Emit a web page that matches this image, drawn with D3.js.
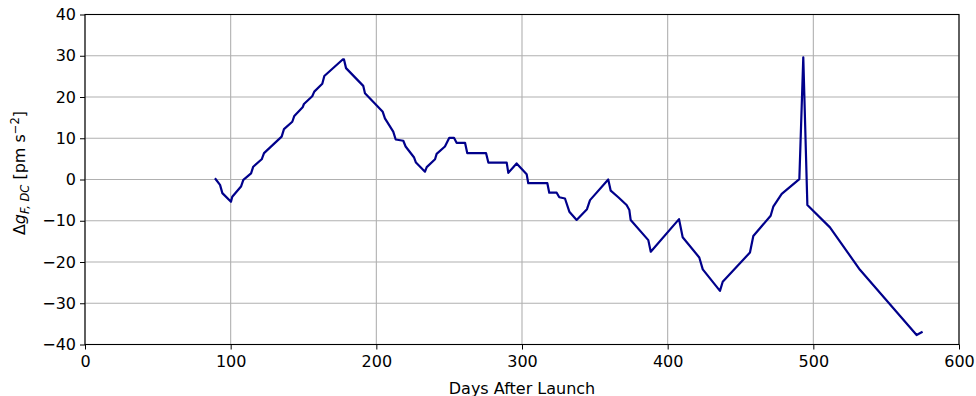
<!DOCTYPE html>
<html>
<head>
<meta charset="utf-8">
<script src="https://cdn.jsdelivr.net/npm/d3@7"></script>
<style>
  body { margin: 0; background: #fff; }
  text { font-family: "DejaVu Sans", sans-serif; }
</style>
</head>
<body>
<div id="chartArea"></div>
<script>
// days after launch and delta g values
let days = [89.2, 92.7, 94.3, 100.2, 101.1, 107.1, 108.7, 114, 115.5, 121.3, 122.9, 135, 136.6,
  142.3, 143.7, 149.4, 150.3, 156, 157.4, 162.9, 164.3, 176.9, 177.8, 179.2, 191, 192.2, 204.4,
  205.9, 211.6, 213.3, 218.5, 220.1, 225.8, 227.2, 233.4, 234.6, 240.3, 241.4, 247.1, 250.1,
  253.3, 255.1, 260.9, 262.4, 275.3, 276.9, 289.5, 290.6, 296.3, 303.2, 304.3, 317.4, 318.7,
  323.8, 325.6, 329.5, 332.5, 337.5, 344.6, 346.7, 359.2, 360.9, 366.1, 371.8, 373.7, 374.6,
  386.7, 388.4, 407.8, 410.3, 421.7, 424.1, 435.9, 437.8, 456.5, 458.8, 470.7, 472.5, 478.3,
  490.4, 493.1, 495.9, 511.4, 532, 570.9, 575]
let dg = [0.3, -1.3, -3.3, -5.4, -4.2, -1.7, -0.1, 1.5, 3.1, 4.9, 6.4, 10.4, 12.2,
  14, 15.4, 17.5, 18.3, 20.2, 21.3, 23.2, 25.1, 29.1, 29.1, 27, 22.7, 20.9, 16.4,
  14.8, 11.6, 9.7, 9.4, 8, 5.4, 4.1, 1.9, 3, 4.9, 6.2, 8, 10.1,
  10.1, 8.9, 8.9, 6.4, 6.4, 4.1, 4.1, 1.6, 3.9, 1.3, -0.9, -0.9, -3.2,
  -3.2, -4.3, -4.6, -7.8, -9.8, -7.2, -5, 0, -2.7, -4.3, -6.2, -7.4, -9.8,
  -14.7, -17.5, -9.6, -14, -18.9, -21.8, -27, -24.8, -17.7, -13.7, -8.8, -6.6, -3.5,
  0.1, 29.6, -6.2, -11.6, -21.9, -37.7, -36.9]
let xTicks = [0, 100, 200, 300, 400, 500, 600]
let yTicks = [-40, -30, -20, -10, 0, 10, 20, 30, 40]

let dataset = days.map((d, i) => ({ day: d, val: dg[i] }))

let svgWidth = 976
let svgHeight = 396
let margin = { left: 85, right: 17, top: 14.5, bottom: 51.5 }
let w = svgWidth - margin.left - margin.right
let h = svgHeight - margin.top - margin.bottom

let xScale = d3.scaleLinear().domain([0, 600]).range([0, w])
let yScale = d3.scaleLinear().domain([-40, 40]).range([h, 0])

let svg = d3.select('#chartArea')
    .append('svg')
    .attr('width', svgWidth)
    .attr('height', svgHeight)
let g = svg.append('g').attr('transform', `translate(${margin.left},${margin.top})`)

// grid
g.append('g').selectAll('line.gx')
    .data(xTicks)
    .enter().append('line')
    .attr('x1', d => xScale(d)).attr('x2', d => xScale(d))
    .attr('y1', 0).attr('y2', h)
    .attr('stroke', '#b0b0b0').attr('stroke-width', 1.1)
g.append('g').selectAll('line.gy')
    .data(yTicks)
    .enter().append('line')
    .attr('x1', 0).attr('x2', w)
    .attr('y1', d => yScale(d)).attr('y2', d => yScale(d))
    .attr('stroke', '#b0b0b0').attr('stroke-width', 1.1)

// axes
let xAxis = g.append('g')
    .attr('transform', `translate(0,${h})`)
    .call(d3.axisBottom(xScale).tickValues(xTicks).tickSize(5).tickPadding(4).tickFormat(d3.format('d')))
let yAxis = g.append('g')
    .call(d3.axisLeft(yScale).tickValues(yTicks).tickSize(5).tickPadding(4)
      .tickFormat(d => d < 0 ? '\u2212' + Math.abs(d) : d))
;[xAxis, yAxis].forEach(a => {
  a.select('.domain').remove()
  a.selectAll('line').attr('stroke', '#000').attr('stroke-width', 1)
  a.selectAll('text').attr('fill', '#000').style('font-size', '16px').style('font-family', '"DejaVu Sans", sans-serif')
})
xAxis.selectAll('text').attr('dy', '0.85em')

// line
let line = d3.line().x(d => xScale(d.day)).y(d => yScale(d.val))
g.append('path')
    .datum(dataset)
    .attr('d', line)
    .attr('fill', 'none')
    .attr('stroke', '#00008b')
    .attr('stroke-width', 2.2)
    .attr('stroke-linejoin', 'round')

// frame
g.append('rect')
    .attr('width', w).attr('height', h)
    .attr('fill', 'none').attr('stroke', '#000').attr('stroke-width', 1.1)

// labels
g.append('text')
    .attr('x', w / 2)
    .attr('y', h + 49)
    .attr('text-anchor', 'middle')
    .style('font-size', '16px')
    .text('Days After Launch')

let yl = svg.append('text')
    .attr('transform', 'translate(25,173) rotate(-90)')
    .attr('text-anchor', 'middle')
    .style('font-size', '16px')
yl.append('tspan').text('\u0394')
yl.append('tspan').style('font-style', 'italic').text('g')
yl.append('tspan').style('font-style', 'italic').style('font-size', '11.5px').attr('dy', 4).text('F, DC')
yl.append('tspan').attr('dy', -4).text(' [pm s')
yl.append('tspan').style('font-size', '11.5px').attr('dy', -6).text('\u22122')
yl.append('tspan').attr('dy', 6).text(']')
</script>
</body>
</html>
